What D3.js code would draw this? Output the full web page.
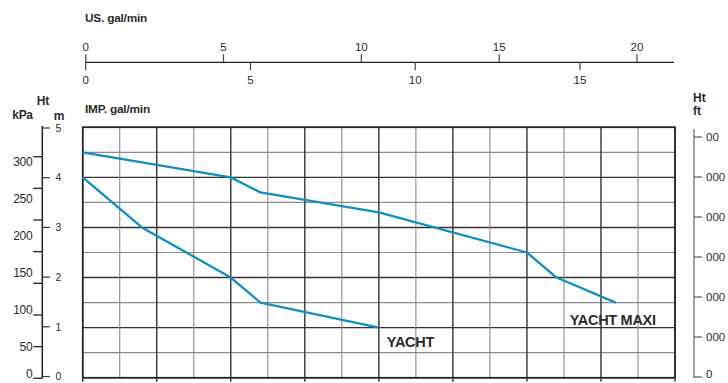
<!DOCTYPE html>
<html><head><meta charset="utf-8">
<script src="https://cdn.jsdelivr.net/npm/d3@7"></script>
<style>
html,body{margin:0;padding:0;background:#fff;}
text{font-family:"Liberation Sans",Arial,sans-serif;}
</style></head>
<body>
<svg id="c" width="728" height="383"></svg>
<script>
// ---- data (flow in L/min on the grid, head in m) ----
const yachtFlow = [0, 8, 20, 24, 40];
const yachtHead = [4.0, 3.0, 2.0, 1.5, 1.0];
const maxiFlow  = [0, 20, 24, 40, 60, 64, 72];
const maxiHead  = [4.5, 4.0, 3.7, 3.3, 2.5, 2.0, 1.5];
const seriesNames = ["YACHT", "YACHT MAXI"];
const usTicks  = [0, 5, 10, 15, 20];
const impTicks = [0, 5, 10, 15];
const mTicks   = [0, 1, 2, 3, 4, 5];
const kpaLabels = [0, 50, 100, 150, 200, 250, 300];
const kpaTickCount = 7;           // 7 intervals over 0..300
const ftLabels = ["0", "000", "000", "000", "000", "000", "00"];
const flowGrid = d3.range(0, 81, 5);
const headGrid = d3.range(0, 5.01, 0.5);

const svg = d3.select("#c");
const ink = "#2b2b2b";
const blue = "#0e8fc2";

// scales
const x  = d3.scaleLinear().domain([0, 80]).range([82.7, 675]);
const y  = d3.scaleLinear().domain([0, 5]).range([377.7, 127.3]);
const xUS  = d3.scaleLinear().domain([0, 20]).range([85.7, 637]);
const xIMP = d3.scaleLinear().domain([0, 15]).range([85.7, 580]);
const yMaxis = d3.scaleLinear().domain([0, 5]).range([376.5, 128]);
const yKpaTick = d3.scaleLinear().domain([0, 300]).range([378.3, 156.7]);
const yKpaLab  = d3.scaleLinear().domain([0, 300]).range([384, 161.8]);
const yFt = d3.scaleLinear().domain([0, 6]).range([377, 137]);

// ---- grid ----
const g = svg.append("g");
g.selectAll(".hg").data(headGrid).enter().append("line")
  .attr("x1", x(0)).attr("x2", x(80))
  .attr("y1", d => y(d)).attr("y2", d => y(d))
  .attr("stroke", (d) => Math.abs(d - Math.round(d)) < 1e-6 ? "#333" : "#8a8a8a")
  .attr("stroke-width", (d) => Math.abs(d - Math.round(d)) < 1e-6 ? 1.4 : 1.1);
g.selectAll(".vg").data(flowGrid).enter().append("line")
  .attr("y1", y(5)).attr("y2", d => (d % 10 === 0) ? y(0) + 4 : y(0))
  .attr("x1", d => x(d)).attr("x2", d => x(d))
  .attr("stroke", d => d % 10 === 0 ? "#333" : "#8a8a8a")
  .attr("stroke-width", d => d % 10 === 0 ? 1.4 : 1.1);
// frame
g.append("rect").attr("x", x(0)).attr("y", y(5))
  .attr("width", x(80) - x(0)).attr("height", y(0) - y(5))
  .attr("fill", "none").attr("stroke", "#222").attr("stroke-width", 1.6);

// ---- curves ----
const line = d3.line().x(d => x(d[0])).y(d => y(d[1]));
const series = [
  d3.zip(yachtFlow, yachtHead),
  d3.zip(maxiFlow, maxiHead)
];
svg.selectAll(".curve").data(series).enter().append("path")
  .attr("d", line).attr("fill", "none")
  .attr("stroke", blue).attr("stroke-width", 2.3)
  .attr("stroke-linejoin", "round");

// series labels (anchored to curve end points)
const yEnd = series[0][series[0].length - 1];
svg.append("text").attr("x", x(yEnd[0]) + 8).attr("y", y(yEnd[1]) + 19.5)
  .attr("font-size", 14.5).attr("font-weight", "bold").attr("fill", ink)
  .attr("letter-spacing", -0.3).text(seriesNames[0]);
const mEnd = series[1][series[1].length - 1];
svg.append("text").attr("x", x(mEnd[0]) - 46).attr("y", y(mEnd[1]) + 22.5)
  .attr("font-size", 14.5).attr("font-weight", "bold").attr("fill", ink)
  .attr("letter-spacing", -0.3).text(seriesNames[1]);

// ---- top flow axes ----
const topY = 62.3;
svg.append("line").attr("x1", xUS(0)).attr("x2", 674)
  .attr("y1", topY).attr("y2", topY).attr("stroke", "#222").attr("stroke-width", 1.3);
svg.selectAll(".ust").data(usTicks).enter().append("line")
  .attr("x1", d => xUS(d)).attr("x2", d => xUS(d))
  .attr("y1", topY - 8).attr("y2", topY).attr("stroke", "#444").attr("stroke-width", 1.2);
svg.selectAll(".usl").data(usTicks).enter().append("text")
  .attr("x", d => xUS(d)).attr("y", 50.8).attr("text-anchor", "middle")
  .attr("font-size", 11.5).attr("fill", ink).text(d => d);
svg.selectAll(".impt").data(impTicks).enter().append("line")
  .attr("x1", d => xIMP(d)).attr("x2", d => xIMP(d))
  .attr("y1", topY).attr("y2", topY + 8).attr("stroke", "#444").attr("stroke-width", 1.2);
svg.selectAll(".impl").data(impTicks).enter().append("text")
  .attr("x", d => xIMP(d)).attr("y", 84.3).attr("text-anchor", "middle")
  .attr("font-size", 11.5).attr("fill", ink).text(d => d);
svg.append("text").attr("x", 85).attr("y", 21.5).attr("font-size", 11.8)
  .attr("font-weight", "bold").attr("fill", ink).attr("letter-spacing", -0.2).text("US. gal/min");
svg.append("text").attr("x", 85).attr("y", 112.5).attr("font-size", 11.8)
  .attr("font-weight", "bold").attr("fill", ink).attr("letter-spacing", -0.2).text("IMP. gal/min");

// ---- left axes (kPa & m) ----
const axX = 42.3;
svg.append("line").attr("x1", axX).attr("x2", axX).attr("y1", 126).attr("y2", 378.5)
  .attr("stroke", "#222").attr("stroke-width", 1.5);
const kpaTickVals = d3.range(0, kpaTickCount + 1).map(i => i * 300 / kpaTickCount);
svg.selectAll(".kt").data(kpaTickVals).enter().append("line")
  .attr("x1", axX - 9).attr("x2", axX)
  .attr("y1", d => yKpaTick(d)).attr("y2", d => yKpaTick(d))
  .attr("stroke", "#222").attr("stroke-width", 1.3);
svg.selectAll(".kl").data(kpaLabels).enter().append("text")
  .attr("x", 32.3).attr("y", d => Math.min(yKpaLab(d), 373.5)).attr("dy", "0.36em")
  .attr("text-anchor", "end").attr("font-size", 12).attr("fill", ink)
  .attr("letter-spacing", -0.3).text(d => d);
svg.selectAll(".mt").data(mTicks).enter().append("line")
  .attr("x1", axX).attr("x2", axX + 7.5)
  .attr("y1", d => yMaxis(d)).attr("y2", d => yMaxis(d))
  .attr("stroke", "#333").attr("stroke-width", 1.2);
svg.selectAll(".ml").data(mTicks).enter().append("text")
  .attr("x", 58.3).attr("y", d => yMaxis(d)).attr("dy", "0.36em")
  .attr("text-anchor", "middle").attr("font-size", 10.5).attr("fill", ink).text(d => d);
svg.append("text").attr("x", 43).attr("y", 105).attr("text-anchor", "middle")
  .attr("font-size", 12).attr("font-weight", "bold").attr("fill", ink).text("Ht");
svg.append("text").attr("x", 22.5).attr("y", 118.5).attr("text-anchor", "middle")
  .attr("font-size", 12).attr("font-weight", "bold").attr("fill", ink).attr("letter-spacing", -0.3).text("kPa");
svg.append("text").attr("x", 59).attr("y", 120).attr("text-anchor", "middle")
  .attr("font-size", 12).attr("font-weight", "bold").attr("fill", ink).text("m");

// ---- right axis (ft) ----
const rX = 694;
svg.append("line").attr("x1", rX).attr("x2", rX).attr("y1", 129).attr("y2", 378)
  .attr("stroke", "#8a8a8a").attr("stroke-width", 1.6);
svg.selectAll(".ft").data(ftLabels).enter().append("line")
  .attr("x1", rX).attr("x2", rX + 8)
  .attr("y1", (d, i) => yFt(i)).attr("y2", (d, i) => yFt(i))
  .attr("stroke", "#555").attr("stroke-width", 1.2);
svg.selectAll(".fl").data(ftLabels).enter().append("text")
  .attr("x", 706).attr("y", (d, i) => Math.min(yFt(i), 374)).attr("dy", "0.36em")
  .attr("font-size", 11.5).attr("fill", ink).text(d => d);
svg.append("text").attr("x", 693).attr("y", 101.5)
  .attr("font-size", 12).attr("font-weight", "bold").attr("fill", ink).text("Ht");
svg.append("text").attr("x", 693).attr("y", 114.5)
  .attr("font-size", 12).attr("font-weight", "bold").attr("fill", ink).text("ft");
</script>
</body></html>
